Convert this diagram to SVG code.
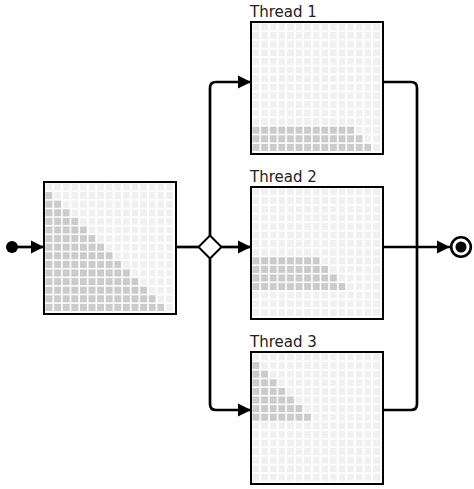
<svg xmlns="http://www.w3.org/2000/svg" width="474" height="489" viewBox="0 0 474 489">
  <style>
    .frame { fill: #ffffff; stroke: #000000; stroke-width: 2; }
    .cell { fill: #f0f0f0; }
    .cell.on { fill: #cbcbcb; }
    .wire { fill: none; stroke: #000000; stroke-width: 2.7; }
    .label { font-family: "DejaVu Sans", sans-serif; font-size: 15px; fill: #222222; }
  </style>
  <defs>
    <marker id="arrow" markerUnits="userSpaceOnUse" markerWidth="16" markerHeight="16" refX="14" refY="8" orient="auto">
      <path d="M1,1.5 L14,8 L1,14.5 Z" fill="#000000"/>
    </marker>
    <!-- 15 cells of the matrix grid, one row -->
    <g id="row-off">
      <rect class="cell" x="0" y="0" width="7" height="7"/>
      <rect class="cell" x="8.6" y="0" width="7" height="7"/>
      <rect class="cell" x="17.2" y="0" width="7" height="7"/>
      <rect class="cell" x="25.8" y="0" width="7" height="7"/>
      <rect class="cell" x="34.4" y="0" width="7" height="7"/>
      <rect class="cell" x="43" y="0" width="7" height="7"/>
      <rect class="cell" x="51.6" y="0" width="7" height="7"/>
      <rect class="cell" x="60.2" y="0" width="7" height="7"/>
      <rect class="cell" x="68.8" y="0" width="7" height="7"/>
      <rect class="cell" x="77.4" y="0" width="7" height="7"/>
      <rect class="cell" x="86" y="0" width="7" height="7"/>
      <rect class="cell" x="94.6" y="0" width="7" height="7"/>
      <rect class="cell" x="103.2" y="0" width="7" height="7"/>
      <rect class="cell" x="111.8" y="0" width="7" height="7"/>
      <rect class="cell" x="120.4" y="0" width="7" height="7"/>
    </g>
    <!-- light grid of 15 x 15 cells -->
    <g id="grid">
      <use href="#row-off" y="0"/>
      <use href="#row-off" y="8.6"/>
      <use href="#row-off" y="17.2"/>
      <use href="#row-off" y="25.8"/>
      <use href="#row-off" y="34.4"/>
      <use href="#row-off" y="43"/>
      <use href="#row-off" y="51.6"/>
      <use href="#row-off" y="60.2"/>
      <use href="#row-off" y="68.8"/>
      <use href="#row-off" y="77.4"/>
      <use href="#row-off" y="86"/>
      <use href="#row-off" y="94.6"/>
      <use href="#row-off" y="103.2"/>
      <use href="#row-off" y="111.8"/>
      <use href="#row-off" y="120.4"/>
    </g>
    <!-- filled cells in row r cover columns 0..r-1; drawn as strips with white gaps -->
    <g id="tri-1-7">
      <rect class="cell on" x="0" y="8.6" width="7" height="7"/>
      <rect class="cell on" x="0" y="17.2" width="15.6" height="7"/>
      <rect class="cell on" x="0" y="25.8" width="24.2" height="7"/>
      <rect class="cell on" x="0" y="34.4" width="32.8" height="7"/>
      <rect class="cell on" x="0" y="43" width="41.4" height="7"/>
      <rect class="cell on" x="0" y="51.6" width="50" height="7"/>
      <rect class="cell on" x="0" y="60.2" width="58.6" height="7"/>
    </g>
    <g id="tri-8-11">
      <rect class="cell on" x="0" y="68.8" width="67.2" height="7"/>
      <rect class="cell on" x="0" y="77.4" width="75.8" height="7"/>
      <rect class="cell on" x="0" y="86" width="84.4" height="7"/>
      <rect class="cell on" x="0" y="94.6" width="93" height="7"/>
    </g>
    <g id="tri-12-14">
      <rect class="cell on" x="0" y="103.2" width="101.6" height="7"/>
      <rect class="cell on" x="0" y="111.8" width="110.2" height="7"/>
      <rect class="cell on" x="0" y="120.4" width="118.8" height="7"/>
    </g>
    <!-- vertical white gaps that split the strips into cells -->
    <g id="gaps" fill="#ffffff">
      <rect x="7" y="0" width="1.6" height="128"/>
      <rect x="15.6" y="0" width="1.6" height="128"/>
      <rect x="24.2" y="0" width="1.6" height="128"/>
      <rect x="32.8" y="0" width="1.6" height="128"/>
      <rect x="41.4" y="0" width="1.6" height="128"/>
      <rect x="50" y="0" width="1.6" height="128"/>
      <rect x="58.6" y="0" width="1.6" height="128"/>
      <rect x="67.2" y="0" width="1.6" height="128"/>
      <rect x="75.8" y="0" width="1.6" height="128"/>
      <rect x="84.4" y="0" width="1.6" height="128"/>
      <rect x="93" y="0" width="1.6" height="128"/>
      <rect x="101.6" y="0" width="1.6" height="128"/>
      <rect x="110.2" y="0" width="1.6" height="128"/>
      <rect x="118.8" y="0" width="1.6" height="128"/>
    </g>
  </defs>

  <!-- connectors -->
  <g id="connectors">
    <path class="wire" d="M12,247 H44" marker-end="url(#arrow)"/>
    <path class="wire" d="M176,247 H198.5"/>
    <path class="wire" d="M221.5,247 H251" marker-end="url(#arrow)"/>
    <path class="wire" d="M210,235.5 V88 Q210,82 216,82 H251" marker-end="url(#arrow)"/>
    <path class="wire" d="M210,258.5 V404 Q210,410 216,410 H251" marker-end="url(#arrow)"/>
    <path class="wire" d="M383,82 H411 Q417,82 417,88 V404 Q417,410 411,410 H383"/>
    <path class="wire" d="M383,247 H450" marker-end="url(#arrow)"/>
  </g>

  <!-- start node -->
  <g id="start">
    <circle cx="12" cy="247" r="6" fill="#000000"/>
  </g>

  <!-- full matrix -->
  <g id="matrix">
    <rect class="frame" x="44" y="182" width="132" height="132"/>
    <g transform="translate(45.5,183.5)">
      <use href="#grid"/>
      <use href="#tri-1-7"/>
      <use href="#tri-8-11"/>
      <use href="#tri-12-14"/>
      <use href="#gaps"/>
    </g>
  </g>

  <!-- fork -->
  <g id="fork">
    <path d="M210,235.5 L221.5,247 L210,258.5 L198.5,247 Z" fill="#ffffff" stroke="#000000" stroke-width="2"/>
  </g>

  <!-- thread 1 -->
  <g id="thread1">
    <text class="label" x="250" y="17">Thread 1</text>
    <rect class="frame" x="251" y="22" width="132" height="132"/>
    <g transform="translate(252.5,23.5)">
      <use href="#grid"/>
      <use href="#tri-12-14"/>
      <use href="#gaps"/>
    </g>
  </g>

  <!-- thread 2 -->
  <g id="thread2">
    <text class="label" x="250" y="182">Thread 2</text>
    <rect class="frame" x="251" y="187" width="132" height="132"/>
    <g transform="translate(252.5,188.5)">
      <use href="#grid"/>
      <use href="#tri-8-11"/>
      <use href="#gaps"/>
    </g>
  </g>

  <!-- thread 3 -->
  <g id="thread3">
    <text class="label" x="250" y="347">Thread 3</text>
    <rect class="frame" x="251" y="352" width="132" height="132"/>
    <g transform="translate(252.5,353.5)">
      <use href="#grid"/>
      <use href="#tri-1-7"/>
      <use href="#gaps"/>
    </g>
  </g>

  <!-- end node -->
  <g id="end">
    <circle cx="461" cy="247" r="9.8" fill="#ffffff" stroke="#000000" stroke-width="2.6"/>
    <circle cx="461" cy="247" r="5.5" fill="#000000"/>
  </g>
</svg>
